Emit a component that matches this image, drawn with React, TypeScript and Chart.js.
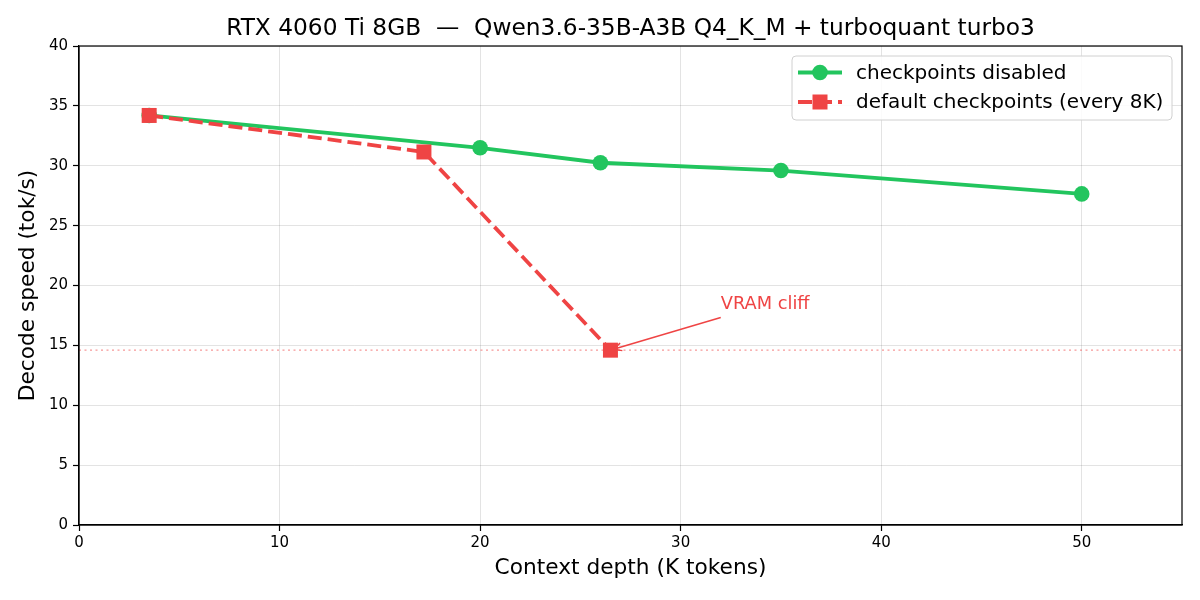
import React, { useEffect, useRef } from "react";
import { Chart, registerables } from "chart.js";

Chart.register(...registerables);

const TITLE = "RTX 4060 Ti 8GB  —  Qwen3.6-35B-A3B Q4_K_M + turboquant turbo3";
const X_LABEL = "Context depth (K tokens)";
const Y_LABEL = "Decode speed (tok/s)";

const disabledLabel = "checkpoints disabled";
const disabledX = [3.5, 20, 26, 35, 50];
const disabledY = [34.2, 31.5, 30.25, 29.6, 27.65];

const defaultLabel = "default checkpoints (every 8K)";
const defaultX = [3.5, 17.2, 26.5];
const defaultY = [34.2, 31.15, 14.6];

const xTickValues = [0, 10, 20, 30, 40, 50];

const cliffLevel = 14.6;
const annotationText = "VRAM cliff";
const annotationTextPos = { x: 32, y: 18 };
const annotationTarget = { x: 26.5, y: 14.6 };

const GREEN = "#22c55e";
const RED = "#ef4444";
const FONT = "'DejaVu Sans', sans-serif";

const decorPlugin = {
  id: "decor",
  beforeDatasetsDraw(chart: any) {
    const { ctx, chartArea, scales } = chart;
    const y = scales.y.getPixelForValue(cliffLevel);
    ctx.save();
    ctx.strokeStyle = "rgba(239,68,68,0.55)";
    ctx.lineWidth = 1.4;
    ctx.setLineDash([2, 3.5]);
    ctx.beginPath();
    ctx.moveTo(chartArea.left, y);
    ctx.lineTo(chartArea.right, y);
    ctx.stroke();
    ctx.restore();
  },
  afterDraw(chart: any) {
    const { ctx, chartArea, scales } = chart;
    const { left, right, top, bottom } = chartArea;
    ctx.save();
    // spines
    ctx.strokeStyle = "#000";
    ctx.lineWidth = 1.2;
    ctx.strokeRect(left, top, right - left, bottom - top);

    // title
    ctx.fillStyle = "#000";
    ctx.font = `23.3px ${FONT}`;
    ctx.textAlign = "center";
    ctx.textBaseline = "alphabetic";
    ctx.fillText(TITLE, (left + right) / 2, 35);

    // annotation
    const tx = scales.x.getPixelForValue(annotationTextPos.x);
    const ty = scales.y.getPixelForValue(annotationTextPos.y);
    ctx.fillStyle = RED;
    ctx.font = `17.8px ${FONT}`;
    ctx.textAlign = "left";
    ctx.fillText(annotationText, tx, ty);
    const ax = scales.x.getPixelForValue(annotationTarget.x) + 3;
    const ay = scales.y.getPixelForValue(annotationTarget.y) - 1;
    const sx = tx;
    const sy = ty + 8;
    ctx.strokeStyle = RED;
    ctx.lineWidth = 1.5;
    ctx.setLineDash([]);
    ctx.beginPath();
    ctx.moveTo(sx, sy);
    ctx.lineTo(ax, ay);
    ctx.stroke();
    const ang = Math.atan2(ay - sy, ax - sx);
    const hl = 9;
    const hw = 0.45;
    ctx.beginPath();
    ctx.moveTo(ax - hl * Math.cos(ang - hw), ay - hl * Math.sin(ang - hw));
    ctx.lineTo(ax, ay);
    ctx.lineTo(ax - hl * Math.cos(ang + hw), ay - hl * Math.sin(ang + hw));
    ctx.stroke();

    // legend
    const lx = 792, ly = 56, lw = 380, lh = 64, r = 4;
    ctx.fillStyle = "rgba(255,255,255,0.85)";
    ctx.strokeStyle = "#d0d0d0";
    ctx.lineWidth = 1;
    ctx.beginPath();
    ctx.roundRect(lx, ly, lw, lh, r);
    ctx.fill();
    ctx.stroke();

    const rows = [
      { label: disabledLabel, color: GREEN, dash: [] as number[], marker: "circle", y: 72.5 },
      { label: defaultLabel, color: RED, dash: [14, 6], marker: "rect", y: 102 },
    ];
    rows.forEach((row) => {
      ctx.strokeStyle = row.color;
      ctx.lineWidth = 3.8;
      ctx.setLineDash(row.dash);
      ctx.beginPath();
      ctx.moveTo(798, row.y);
      ctx.lineTo(842, row.y);
      ctx.stroke();
      ctx.setLineDash([]);
      ctx.fillStyle = row.color;
      if (row.marker === "circle") {
        ctx.beginPath();
        ctx.arc(820, row.y, 7.8, 0, Math.PI * 2);
        ctx.fill();
      } else {
        ctx.fillRect(820 - 7.5, row.y - 7.5, 15, 15);
      }
      ctx.fillStyle = "#000";
      ctx.font = `20px ${FONT}`;
      ctx.textAlign = "left";
      ctx.textBaseline = "middle";
      ctx.fillText(row.label, 856, row.y + 1);
    });
    ctx.restore();
  },
};

export default function App() {
  const ref = useRef<HTMLCanvasElement | null>(null);

  useEffect(() => {
    if (!ref.current) return;
    const chart = new Chart(ref.current, {
      type: "line",
      data: {
        datasets: [
          {
            label: disabledLabel,
            data: disabledX.map((x, i) => ({ x, y: disabledY[i] })),
            borderColor: GREEN,
            backgroundColor: GREEN,
            borderWidth: 3.8,
            pointRadius: 7.8,
            pointHoverRadius: 7.8,
            pointStyle: "circle",
            pointBorderWidth: 0,
            tension: 0,
            order: 2,
          },
          {
            label: defaultLabel,
            data: defaultX.map((x, i) => ({ x, y: defaultY[i] })),
            borderColor: RED,
            backgroundColor: RED,
            borderWidth: 3.8,
            borderDash: [14, 6],
            pointRadius: 10.6,
            pointHoverRadius: 10.6,
            pointStyle: "rect",
            pointBorderWidth: 0,
            tension: 0,
            order: 1,
          },
        ],
      },
      options: {
        animation: false,
        responsive: false,
        devicePixelRatio: 1,
        layout: { padding: { top: 46, right: 18, left: 0, bottom: 0 } },
        plugins: {
          legend: { display: false },
          title: { display: false },
          tooltip: { enabled: false },
        },
        scales: {
          x: {
            type: "linear",
            min: 0,
            max: 55,
            afterBuildTicks: (s: any) => {
              s.ticks = xTickValues.map((v) => ({ value: v }));
            },
            ticks: {
              stepSize: 10,
              color: "#000",
              font: { family: FONT, size: 15 },
              padding: 3,
              maxRotation: 0,
            },
            grid: {
              color: "rgba(0,0,0,0.11)",
              lineWidth: 1,
              tickColor: "#000",
              tickLength: 6,
              tickWidth: 1.2,
            },
            border: { display: true, color: "#000", width: 1.2 },
            title: {
              display: true,
              text: X_LABEL,
              color: "#000",
              font: { family: FONT, size: 21.7 },
              padding: { top: 0, bottom: 19 },
            },
            afterFit: (s: any) => {
              s.height = 75;
            },
          },
          y: {
            type: "linear",
            min: 0,
            max: 40,
            ticks: {
              stepSize: 5,
              color: "#000",
              font: { family: FONT, size: 15 },
              padding: 5,
            },
            grid: {
              color: "rgba(0,0,0,0.11)",
              lineWidth: 1,
              tickColor: "#000",
              tickLength: 6,
              tickWidth: 1.2,
            },
            border: { display: true, color: "#000", width: 1.2 },
            title: {
              display: true,
              text: Y_LABEL,
              color: "#000",
              font: { family: FONT, size: 21.7 },
              padding: { top: 15, bottom: 0 },
            },
            afterFit: (s: any) => {
              s.width = 79;
            },
          },
        },
      },
      plugins: [decorPlugin],
    });
    return () => chart.destroy();
  }, []);

  return (
    <div style={{ position: "fixed", left: 0, top: 0, width: 1200, height: 600, background: "#fff" }}>
      <canvas ref={ref} width={1200} height={600} style={{ width: 1200, height: 600, display: "block" }} />
    </div>
  );
}
